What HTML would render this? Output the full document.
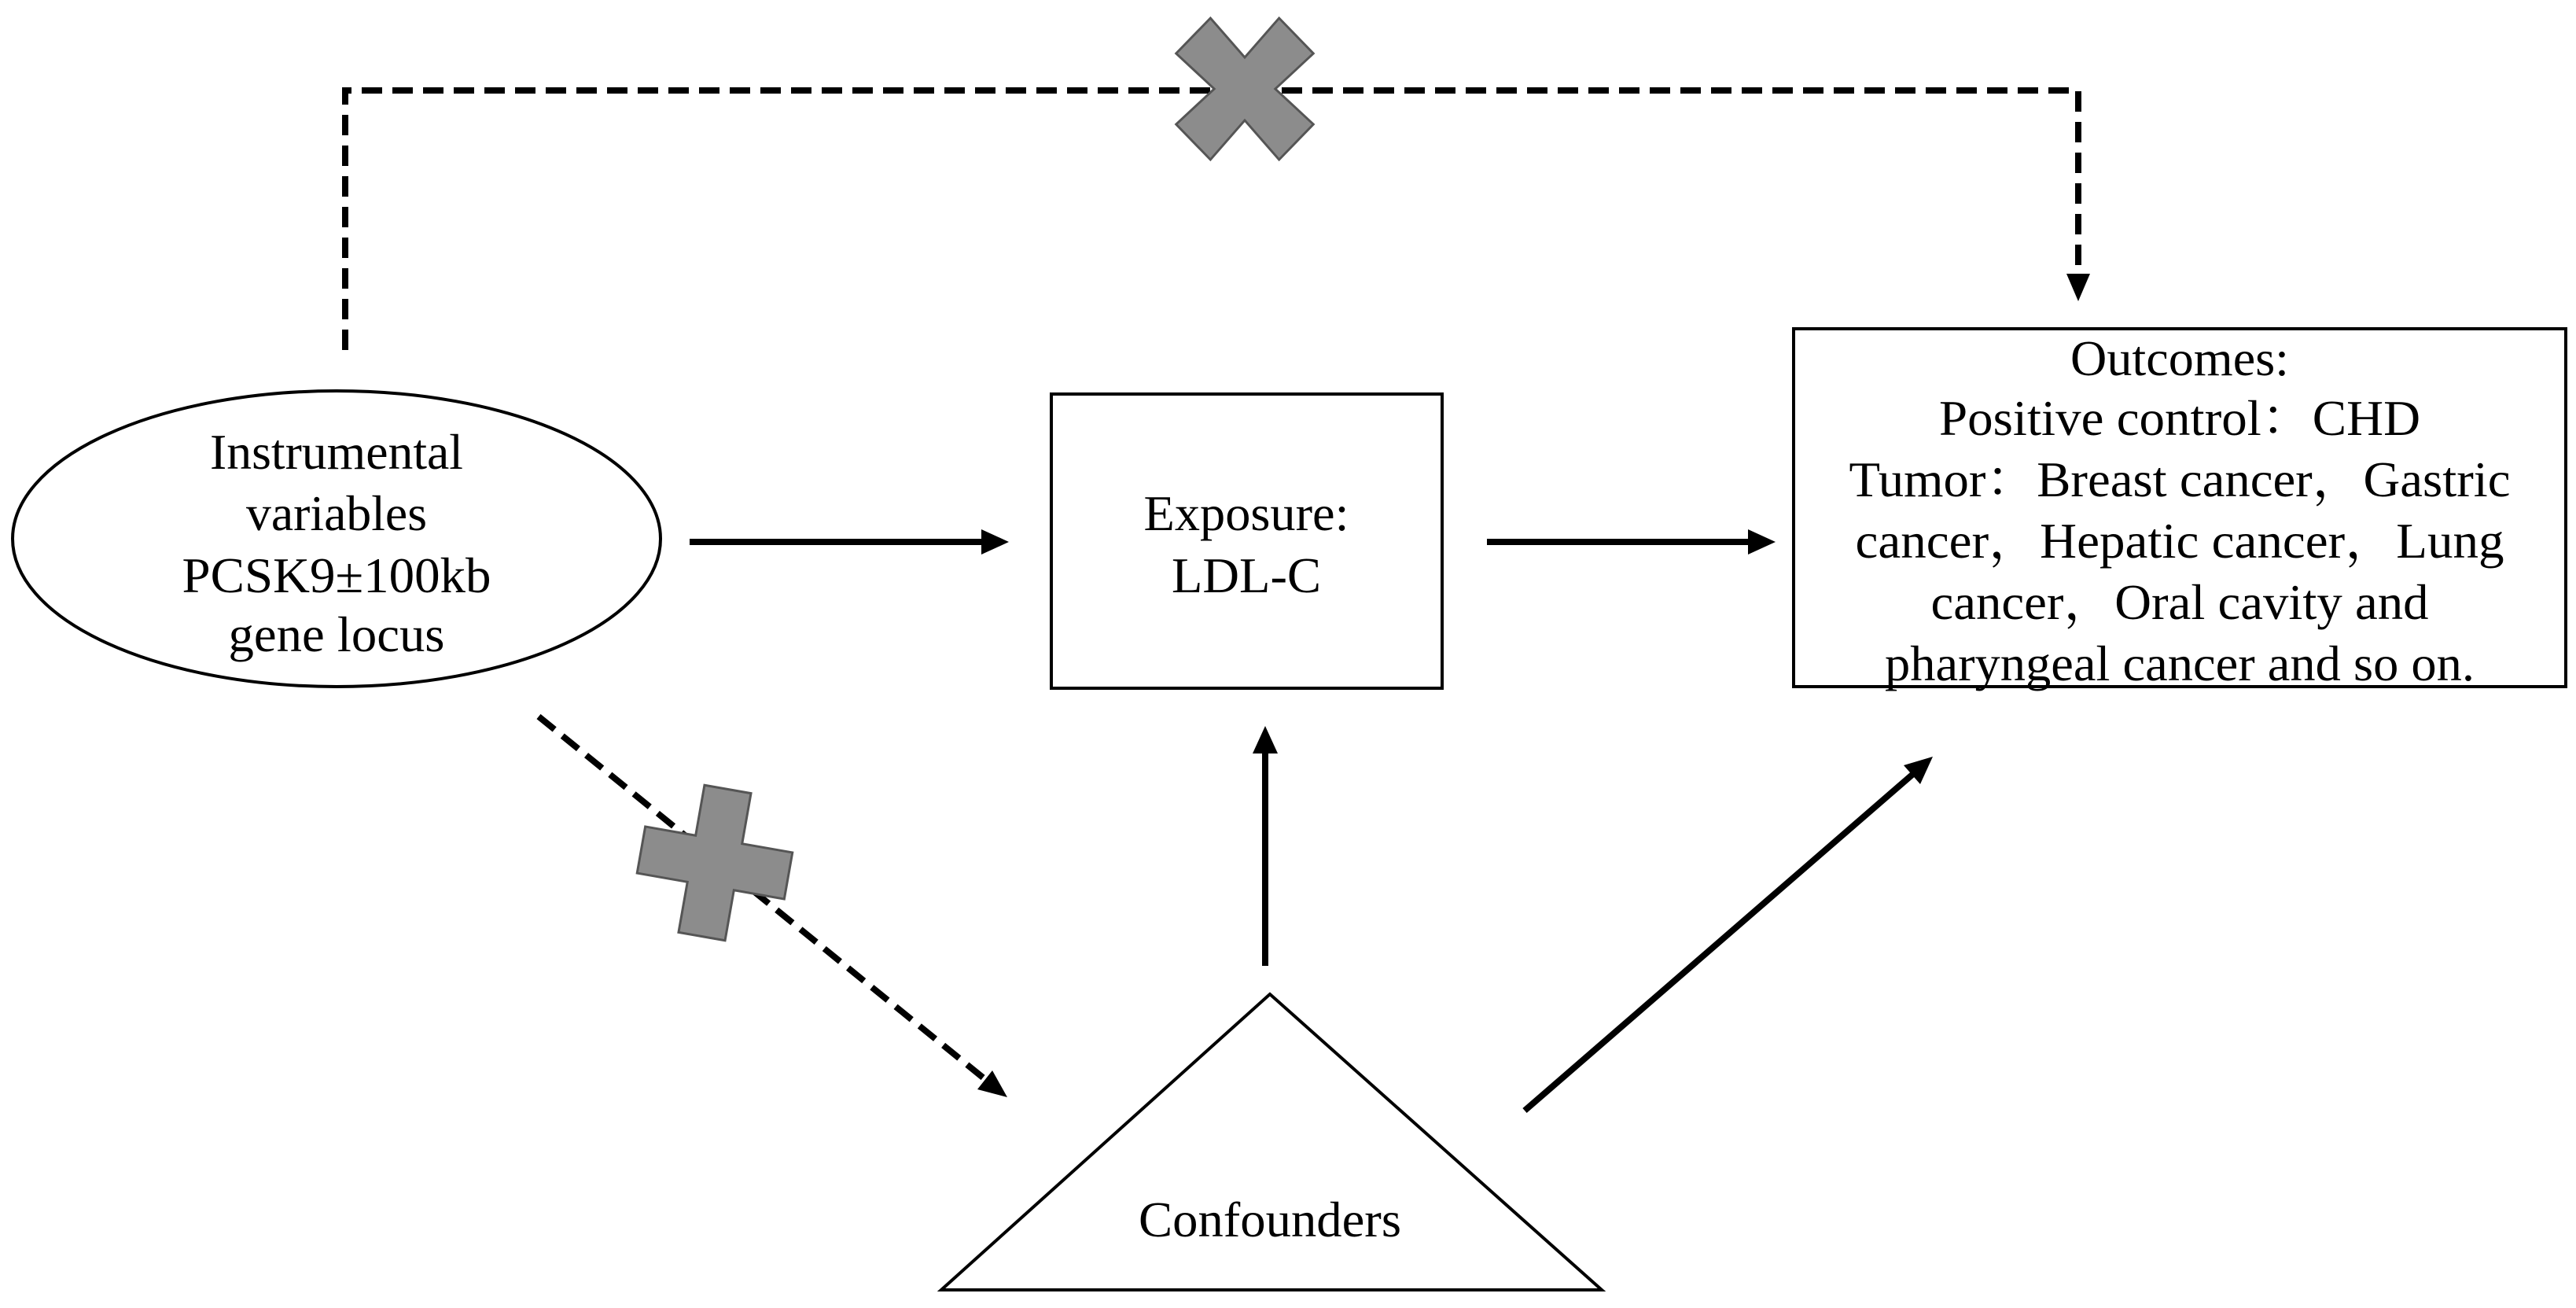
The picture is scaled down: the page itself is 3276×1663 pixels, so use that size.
<!DOCTYPE html>
<html><head><style>html,body{margin:0;padding:0;background:#fff}svg{display:block}</style></head>
<body>
<svg width="3276" height="1663" viewBox="0 0 3276 1663" xmlns="http://www.w3.org/2000/svg" font-family="'Liberation Serif', serif" font-size="64" text-anchor="middle">
<ellipse cx="428" cy="685" rx="412" ry="188" fill="#fff" stroke="#000" stroke-width="4"/>
<rect x="1337" y="501" width="497" height="374" fill="#fff" stroke="#000" stroke-width="4"/>
<rect x="2281" y="418" width="982" height="455" fill="#fff" stroke="#000" stroke-width="4"/>
<polygon points="1615,1264 1197,1640 2037,1640" fill="#fff" stroke="#000" stroke-width="4"/>

<polyline points="439,445 439,115 2643,115 2643,350" fill="none" stroke="#000" stroke-width="8" stroke-dasharray="26,13"/>
<polygon points="2628,348 2658,348 2643,383" fill="#000"/>

<line x1="685" y1="911" x2="1255" y2="1374" stroke="#000" stroke-width="8" stroke-dasharray="26,13"/>
<polygon points="1281,1395 1243,1385 1262,1361" fill="#000"/>

<line x1="877" y1="689" x2="1250" y2="689" stroke="#000" stroke-width="8"/>
<polygon points="1283,689 1248,673 1248,705" fill="#000"/>
<line x1="1891" y1="689" x2="2225" y2="689" stroke="#000" stroke-width="8"/>
<polygon points="2258,689 2223,673 2223,705" fill="#000"/>
<line x1="1609" y1="1228" x2="1609" y2="955" stroke="#000" stroke-width="8"/>
<polygon points="1609,923 1593,958 1625,958" fill="#000"/>
<line x1="1939" y1="1412" x2="2433" y2="984" stroke="#000" stroke-width="8"/>
<polygon points="2458,962 2421,973 2442,997" fill="#000"/>

<g transform="translate(1583,113)">
<polygon points="-45,-90 0,-40 45,-90 90,-45 40,0 90,45 45,90 0,40 -45,90 -90,45 -40,0 -90,-45" fill="#8c8c8c" stroke="#555" stroke-width="3" transform="scale(0.97,1)"/>
</g>
<g transform="translate(909,1097) rotate(10)">
<polygon points="-30,-95 30,-95 30,-30 95,-30 95,30 30,30 30,95 -30,95 -30,30 -95,30 -95,-30 -30,-30" fill="#8c8c8c" stroke="#555" stroke-width="3"/>
</g>

<text x="428" y="596" textLength="322" lengthAdjust="spacingAndGlyphs">Instrumental</text>
<text x="428" y="674" textLength="230" lengthAdjust="spacingAndGlyphs">variables</text>
<text x="428" y="753" textLength="393" lengthAdjust="spacingAndGlyphs">PCSK9±100kb</text>
<text x="428" y="828" textLength="275" lengthAdjust="spacingAndGlyphs">gene locus</text>

<text x="1585" y="674" textLength="261" lengthAdjust="spacingAndGlyphs">Exposure:</text>
<text x="1585" y="753" textLength="190" lengthAdjust="spacingAndGlyphs">LDL-C</text>

<text x="1615" y="1572" textLength="334" lengthAdjust="spacingAndGlyphs">Confounders</text>

<g font-family="'Liberation Serif','Noto Serif CJK SC',serif">
<text x="2772" y="477" textLength="278" lengthAdjust="spacingAndGlyphs">Outcomes:</text>
<text x="2772" y="553" textLength="612" lengthAdjust="spacingAndGlyphs">Positive control：CHD</text>
<text x="2772" y="631" textLength="841" lengthAdjust="spacingAndGlyphs">Tumor：Breast cancer，Gastric</text>
<text x="2772" y="709" textLength="825" lengthAdjust="spacingAndGlyphs">cancer，Hepatic cancer，Lung</text>
<text x="2772" y="787" textLength="633" lengthAdjust="spacingAndGlyphs">cancer，Oral cavity and</text>
<text x="2772" y="865" textLength="750" lengthAdjust="spacingAndGlyphs">pharyngeal cancer and so on.</text>
</g>
</svg>
</body></html>
